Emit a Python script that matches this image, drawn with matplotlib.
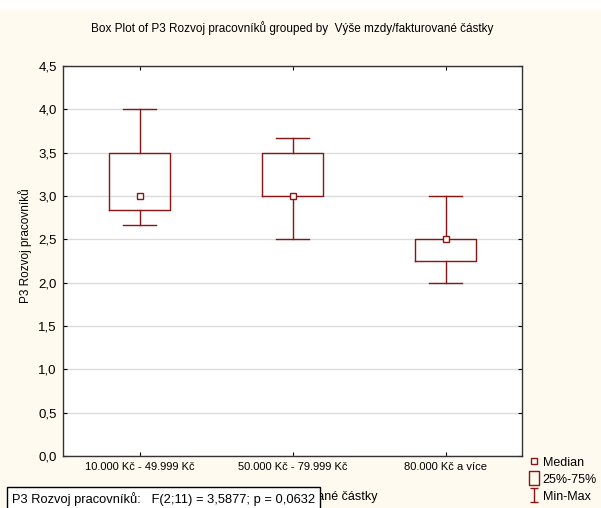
import matplotlib
matplotlib.use("Agg")
import matplotlib.pyplot as plt
from matplotlib.lines import Line2D
from matplotlib.path import Path
from matplotlib.patches import Rectangle

plt.rcParams['font.family'] = ['Liberation Sans', 'DejaVu Sans']

categories = ['10.000 Kč - 49.999 Kč', '50.000 Kč - 79.999 Kč', '80.000 Kč a více']
mins = [2.667, 2.5, 2.0]
q1 = [2.833, 3.0, 2.25]
medians = [3.0, 3.0, 2.5]
q3 = [3.5, 3.5, 2.5]
maxs = [4.0, 3.667, 3.0]
yticks = [0.0, 0.5, 1.0, 1.5, 2.0, 2.5, 3.0, 3.5, 4.0, 4.5]

red = '#8c1414'
cream = '#fffaf0'

fig = plt.figure(figsize=(6.01, 5.08), dpi=100, facecolor=cream)
# white strip at the very top
fig.patches.append(Rectangle((0, 1 - 10 / 508), 1, 10 / 508, transform=fig.transFigure,
                             facecolor='white', edgecolor='none', zorder=0))

ax = fig.add_axes([63 / 601, 1 - 456 / 508, (522 - 63) / 601, (456 - 66) / 508])
ax.set_facecolor('white')

stats = []
for i in range(len(categories)):
    stats.append(dict(whislo=mins[i], q1=q1[i], med=medians[i], q3=q3[i],
                      whishi=maxs[i], fliers=[], label=categories[i]))

pos = [1, 2, 3]
ax.bxp(stats, positions=pos, widths=0.4, capwidths=0.21, showfliers=False,
       boxprops=dict(color=red, linewidth=1.0),
       whiskerprops=dict(color=red, linewidth=1.0),
       capprops=dict(color=red, linewidth=1.0),
       medianprops=dict(linestyle='none'))
ax.plot(pos, medians, linestyle='none', marker='s', markersize=4.5,
        markerfacecolor='white', markeredgecolor=red, markeredgewidth=1.0, zorder=5)

ax.set_xlim(0.5, 3.5)
ax.set_ylim(0, 4.5)
ax.set_yticks(yticks)
ax.set_yticklabels([f'{v:.1f}'.replace('.', ',') for v in yticks], fontsize=9.5)
ax.set_xticks(pos)
ax.set_xticklabels(categories, fontsize=8)
ax.tick_params(direction='in', length=3, top=True, right=True, width=0.8)
ax.tick_params(axis='y', pad=4.5)
ax.tick_params(axis='x', pad=4)
ax.grid(axis='y', color='#dcdcdc', linewidth=1.0)
ax.set_axisbelow(True)
for s in ax.spines.values():
    s.set_color('#333333')
    s.set_linewidth(1.0)

ax.set_ylabel('P3 Rozvoj pracovníků', fontsize=8.5)
ax.yaxis.set_label_coords(-0.068, 0.54)
# the x label sits partly behind the statistics box, as in the original
ax.set_xlabel('Výše mzdy/fakturované částky', fontsize=9, labelpad=14)
fig.suptitle('Box Plot of P3 Rozvoj pracovníků grouped by  Výše mzdy/fakturované částky',
             fontsize=8.5, x=0.487, y=1 - 28 / 508, va='center')

# legend with custom symbols
box_marker = Path([(-0.65, -1), (0.65, -1), (0.65, 1), (-0.65, 1), (-0.65, -1)],
                  [Path.MOVETO, Path.LINETO, Path.LINETO, Path.LINETO, Path.CLOSEPOLY])
minmax_marker = Path([(-0.65, -1), (0.65, -1), (0, -1), (0, 1), (-0.65, 1), (0.65, 1)],
                     [Path.MOVETO, Path.LINETO, Path.MOVETO, Path.LINETO, Path.MOVETO, Path.LINETO])
handles = [
    Line2D([], [], linestyle='none', marker='s', markersize=4.5, markerfacecolor='white',
           markeredgecolor=red, markeredgewidth=1.0),
    Line2D([], [], linestyle='none', marker=box_marker, markersize=10, markerfacecolor='none',
           markeredgecolor=red, markeredgewidth=1.0),
    Line2D([], [], linestyle='none', marker=minmax_marker, markersize=9.5, markerfacecolor='none',
           markeredgecolor=red, markeredgewidth=1.0),
]
fig.legend(handles, ['Median', '25%-75%', 'Min-Max'], loc='upper left',
           bbox_to_anchor=(520 / 601, 1 - 448 / 508), frameon=False, fontsize=9,
           handlelength=0.8, handletextpad=0.3, labelspacing=0.4, borderpad=0.2)

fig.text(12 / 601, 1 - 499 / 508,
         'P3 Rozvoj pracovníků:   F(2;11) = 3,5877; p = 0,0632',
         fontsize=9.3, va='center', ha='left', zorder=10,
         bbox=dict(boxstyle='square,pad=0.4', facecolor='white', edgecolor='black', linewidth=1.0))

fig.savefig('out.png', dpi=100, facecolor=cream)
